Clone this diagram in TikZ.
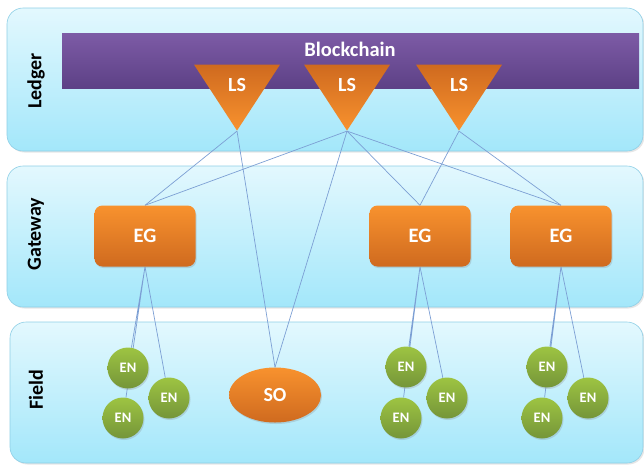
\documentclass[tikz,border=0pt]{standalone}
\usepackage{fontspec}
\setmainfont{Carlito}
\usetikzlibrary{shapes.geometric,shadows}

\definecolor{bandtop}{HTML}{E3F8FE}
\definecolor{bandbot}{HTML}{A3E7FA}
\definecolor{bandline}{HTML}{8FCFE6}
\definecolor{chaintop}{HTML}{7D5BA6}
\definecolor{chainbot}{HTML}{5D4186}
\definecolor{orangelight}{HTML}{F8922E}
\definecolor{orangedark}{HTML}{CF6A1F}
\definecolor{greenlight}{HTML}{9DC442}
\definecolor{greendark}{HTML}{759539}
\definecolor{wire}{HTML}{7C9FD4}

\pgfdeclarelayer{back}
\pgfdeclarelayer{wires}
\pgfsetlayers{back,wires,main}

\tikzset{
	band/.style={draw=bandline, line width=0.6pt, rounded corners=16pt, top color=bandtop, bottom color=bandbot,
		drop shadow={opacity=0.2, shadow xshift=1.5pt, shadow yshift=-1.5pt}},
	lane/.style={rotate=90, font=\bfseries\fontsize{20}{20}\selectfont},
	chain/.style={top color=chaintop, bottom color=chainbot, draw=none},
	ls/.style={isosceles triangle, isosceles triangle stretches, shape border rotate=-90,
		minimum width=86pt, minimum height=66pt, inner sep=0pt,
		top color=orangedark, bottom color=orangelight, text=white, font=\bfseries\fontsize{20}{20}\selectfont},
	eg/.style={rectangle, rounded corners=8pt, minimum width=101pt, minimum height=61pt,
		top color=orangelight, bottom color=orangedark, text=white, font=\bfseries\fontsize{20.5}{20.5}\selectfont,
		drop shadow={opacity=0.25, shadow xshift=1pt, shadow yshift=-1.5pt}},
	en/.style={circle, minimum size=41pt, inner sep=0pt,
		top color=greenlight, bottom color=greendark, text=white, font=\bfseries\fontsize{14.5}{14.5}\selectfont,
		drop shadow={opacity=0.25, shadow xshift=1pt, shadow yshift=-1.5pt}},
	so/.style={ellipse, minimum width=92pt, minimum height=55pt, inner sep=0pt,
		top color=orangelight, bottom color=orangedark, text=white, font=\bfseries\fontsize{20}{20}\selectfont,
		drop shadow={opacity=0.25, shadow xshift=1pt, shadow yshift=-1.5pt}},
	wire/.style={draw=wire, line width=0.7pt}
}

\begin{document}
\begin{tikzpicture}[x=1pt, y=-1pt]
	\useasboundingbox (0,0) rectangle (644,464);

	% lanes
	\begin{pgfonlayer}{back}
		\path[band] (7,8) rectangle (643,151);
		\path[band] (7,166) rectangle (643,307);
		\path[band] (10,322) rectangle (643,463);
		\path[chain] (62,33) rectangle (639,88);
	\end{pgfonlayer}
	\node[lane] at (36,81) (l0) {Ledger};
	\node[lane] at (36,234) (l1) {Gateway};
	\node[lane] at (36,390) (l2) {Field};
	\node[text=white, font=\bfseries\fontsize{20.5}{20.5}\selectfont] at (350,49) (bc) {Blockchain};

	% ledger servers
	\node[ls] at (237,85) (ls1) {LS};
	\node[ls] at (347,85) (ls2) {LS};
	\node[ls] at (459,85) (ls3) {LS};

	% gateways
	\node[eg] at (145,236) (eg1) {EG};
	\node[eg] at (420,236) (eg2) {EG};
	\node[eg] at (561,236) (eg3) {EG};

	% field
	\node[so] at (275,395) (so) {SO};
	\node[en] at (128,368) (en1) {EN};
	\node[en] at (123,418) (en2) {EN};
	\node[en] at (169,398) (en3) {EN};
	\node[en] at (406,367) (en4) {EN};
	\node[en] at (401,418) (en5) {EN};
	\node[en] at (447,398) (en6) {EN};
	\node[en] at (547,367) (en7) {EN};
	\node[en] at (542,418) (en8) {EN};
	\node[en] at (588,398) (en9) {EN};

	\begin{pgfonlayer}{wires}
		\draw[wire] (ls1.apex)--(eg1.north);
		\draw[wire] (ls1.apex)--(so.north);
		\draw[wire] (ls2.apex)--(eg1.north);
		\draw[wire] (ls2.apex)--(so.north);
		\draw[wire] (ls2.apex)--(eg2.north);
		\draw[wire] (ls2.apex)--(eg3.north);
		\draw[wire] (ls3.apex)--(eg2.north);
		\draw[wire] (ls3.apex)--(eg3.north);
		\draw[wire] (eg1.south)--(en1) (eg1.south)--(en2) (eg1.south)--(en3);
		\draw[wire] (eg2.south)--(en4) (eg2.south)--(en5) (eg2.south)--(en6);
		\draw[wire] (eg3.south)--(en7) (eg3.south)--(en8) (eg3.south)--(en9);
	\end{pgfonlayer}
\end{tikzpicture}
\end{document}
